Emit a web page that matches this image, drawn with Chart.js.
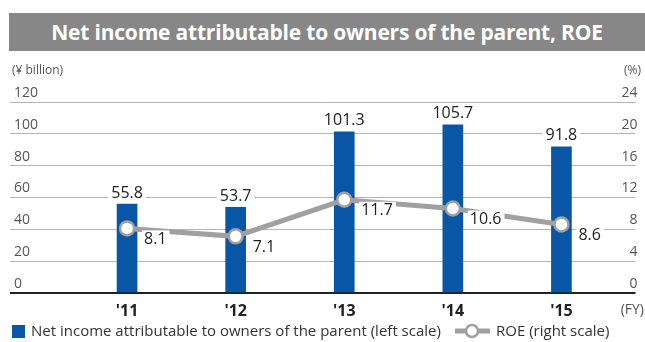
<!DOCTYPE html>
<html>
<head>
<meta charset="utf-8">
<script src="https://cdn.jsdelivr.net/npm/chart.js@4.4.1/dist/chart.umd.min.js"></script>
<style>
  html, body { margin: 0; padding: 0; background: #fff; }
  #wrap { position: relative; width: 645px; height: 342px; }
  #title {
    position: absolute; left: 9px; top: 13px; width: 636px; height: 38px;
    background: #878787; color: #fff; font: bold 21px "Open Sans", sans-serif;
    line-height: 38px; text-align: center; letter-spacing: -0.2px;
  }
  canvas { position: absolute; left: 0; top: 0; }
</style>
</head>
<body>
<div id="wrap">
  <canvas id="roeChart" width="645" height="342"></canvas>
  <div id="title">Net income attributable to owners of the parent, ROE</div>
</div>
<script>
// 연도별 데이터
const years = ["'11", "'12", "'13", "'14", "'15"];
const netIncome = [55.8, 53.7, 101.3, 105.7, 91.8];   // ¥ billion
const roe = [8.1, 7.1, 11.7, 10.6, 8.6];               // %

const FONT = '"Open Sans", sans-serif';

// 라벨, 단위, 범례 그리기
const labelPlugin = {
  id: 'labels',
  afterDatasetsDraw(chart) {
    const ctx = chart.ctx;
    ctx.save();
    ctx.font = '16px ' + FONT;
    ctx.textBaseline = 'middle';

    // 막대 위 값
    const bars = chart.getDatasetMeta(0).data;
    ctx.textAlign = 'center';
    bars.forEach((bar, i) => {
      const txt = netIncome[i].toFixed(1);
      const w = ctx.measureText(txt).width;
      const y = bar.y - 11;
      ctx.fillStyle = '#fff';
      ctx.fillRect(bar.x - w / 2 - 3, y - 9, w + 6, 18);
      ctx.fillStyle = '#222';
      ctx.fillText(txt, bar.x, y);
    });

    // ROE 값
    const pts = chart.getDatasetMeta(1).data;
    ctx.textAlign = 'left';
    pts.forEach((p, i) => {
      const txt = roe[i].toFixed(1);
      const w = ctx.measureText(txt).width;
      const x = p.x + 17, y = p.y + 11;
      ctx.fillStyle = '#fff';
      ctx.fillRect(x - 2, y - 9, w + 5, 18);
      ctx.fillStyle = '#222';
      ctx.fillText(txt, x, y);
    });
    ctx.restore();
  },
  afterDraw(chart) {
    const ctx = chart.ctx;
    ctx.save();
    ctx.fillStyle = '#555';
    ctx.font = '12px ' + FONT;
    ctx.textBaseline = 'middle';
    ctx.textAlign = 'left';
    ctx.fillText('(\u00a5 billion)', 12, 71);
    ctx.textAlign = 'right';
    ctx.fillText('(%)', 641, 71);
    ctx.font = '14px ' + FONT;
    ctx.fillText('(FY)', 644, 310);

    // 범례
    ctx.fillStyle = '#0a56a6';
    ctx.fillRect(12, 325, 13, 13);
    ctx.fillStyle = '#333';
    ctx.font = '15px ' + FONT;
    ctx.textAlign = 'left';
    ctx.fillText('Net income attributable to owners of the parent (left scale)', 31, 332);

    ctx.strokeStyle = '#a0a0a0';
    ctx.lineWidth = 5;
    ctx.beginPath();
    ctx.moveTo(455, 331);
    ctx.lineTo(490, 331);
    ctx.stroke();
    ctx.beginPath();
    ctx.arc(472, 331, 6, 0, Math.PI * 2);
    ctx.fillStyle = '#fff';
    ctx.fill();
    ctx.lineWidth = 2.5;
    ctx.stroke();
    ctx.fillStyle = '#333';
    ctx.fillText('ROE (right scale)', 496, 332);
    ctx.restore();
  }
};

// 세로축 폭을 0으로 두고 눈금 라벨은 그래프 안쪽에 표시
const zeroWidth = scale => { scale.width = 0; };

const ctx = document.getElementById('roeChart').getContext('2d');
const chart = new Chart(ctx, {
  data: {
    datasets: [
      {
        type: 'bar',
        label: 'Net income attributable to owners of the parent (left scale)',
        data: netIncome.map((v, i) => ({ x: i, y: v })),
        backgroundColor: '#0a56a6',
        barThickness: 20,
        yAxisID: 'y',
        order: 2
      },
      {
        type: 'line',
        label: 'ROE (right scale)',
        data: roe.map((v, i) => ({ x: i, y: v })),
        borderColor: '#a0a0a0',
        borderWidth: 5,
        pointRadius: 7,
        pointBorderWidth: 2.5,
        pointBackgroundColor: '#fff',
        pointBorderColor: '#a0a0a0',
        tension: 0,
        yAxisID: 'y1',
        order: 1
      }
    ]
  },
  options: {
    responsive: false,
    animation: false,
    layout: { padding: { top: 102, left: 10, right: 5, bottom: 12 } },
    plugins: {
      legend: { display: false },
      tooltip: { enabled: false }
    },
    scales: {
      x: {
        type: 'linear',
        offset: false,
        min: -1.078,
        max: 4.682,
        afterBuildTicks(scale) {
          scale.ticks = years.map((_, i) => ({ value: i }));
        },
        grid: { display: false, drawTicks: false },
        border: { display: false },
        ticks: {
          padding: 9,
          color: '#222',
          font: { family: FONT, size: 16, weight: 'bold' },
          callback: v => years[v]
        }
      },
      y: {
        position: 'left',
        min: 0,
        max: 120,
        afterFit: zeroWidth,
        afterBuildTicks(scale) {
          scale.ticks = [0, 20, 40, 60, 80, 100, 120].map(v => ({ value: v }));
        },
        border: { display: false },
        grid: {
          drawTicks: false,
          color: c => c.tick.value === 0 ? '#222' : '#b4b4b4',
          lineWidth: c => c.tick.value === 0 ? 2 : 1
        },
        ticks: {
          mirror: true,
          padding: 4,
          labelOffset: -9,
          color: '#555',
          font: { family: FONT, size: 14 }
        }
      },
      y1: {
        position: 'right',
        min: 0,
        max: 24,
        afterFit: zeroWidth,
        afterBuildTicks(scale) {
          scale.ticks = [0, 4, 8, 12, 16, 20, 24].map(v => ({ value: v }));
        },
        border: { display: false },
        grid: { display: false, drawTicks: false },
        ticks: {
          mirror: true,
          padding: 2,
          labelOffset: -9,
          color: '#555',
          font: { family: FONT, size: 14 }
        }
      }
    }
  },
  plugins: [labelPlugin]
});
</script>
</body>
</html>
